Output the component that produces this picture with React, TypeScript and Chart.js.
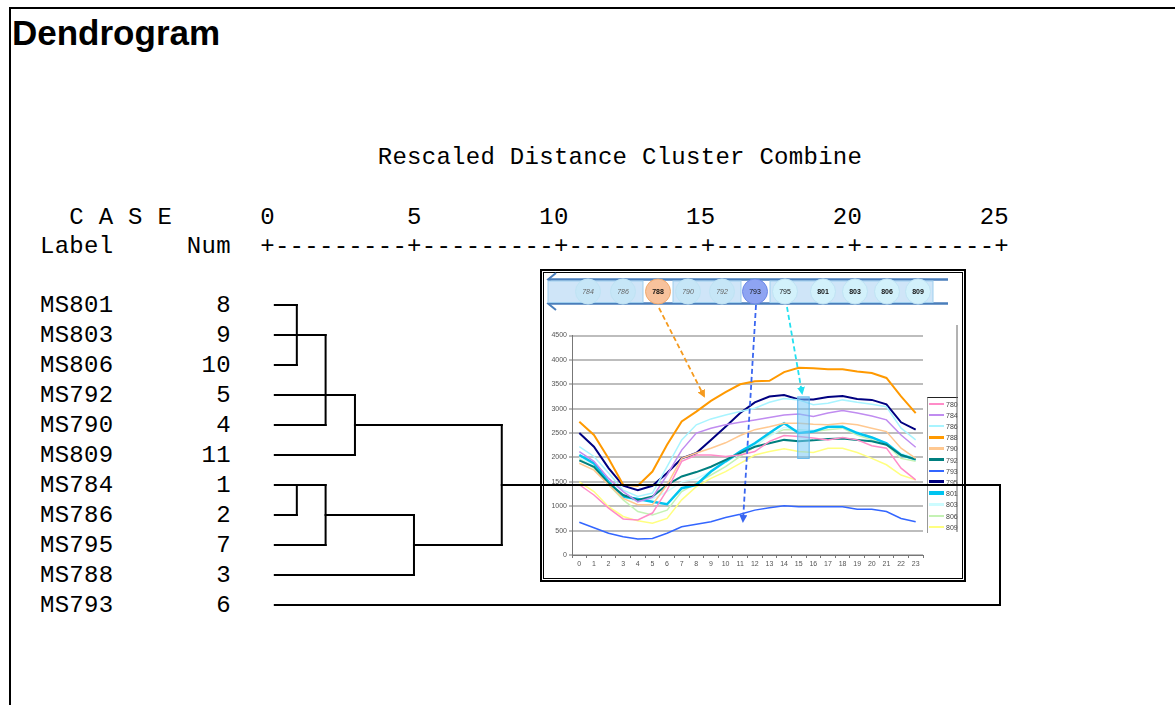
import React, { useEffect, useRef } from "react";
import { Chart, registerables } from "chart.js";

Chart.register(...registerables);

// ---------------- Dendrogram data ----------------
const caseLabels = ["MS801", "MS803", "MS806", "MS792", "MS790", "MS809", "MS784", "MS786", "MS795", "MS788", "MS793"];
const caseNums = [8, 9, 10, 5, 4, 11, 1, 2, 7, 3, 6];
const distanceTickLabels = ["0", "5", "10", "15", "20", "25"];
const leafStart = 0.3;
// children are node ids: 0..10 = leaves (rows), 11.. = earlier merges in order
const mergeChildren = [[0, 1, 2], [11, 4], [12, 3, 5], [6, 7], [14, 8], [15, 9], [13, 16], [17, 10]];
const mergeDistances = [1.05, 2.03, 3.03, 1.05, 2.03, 5.04, 8.03, 25];
const mergeOutRows = [1, 3, 4, 6, 7, 8, 6, 6];

// ---------------- Inset line chart data ----------------
const hours = ["0", "1", "2", "3", "4", "5", "6", "7", "8", "9", "10", "11", "12", "13", "14", "15", "16", "17", "18", "19", "20", "21", "22", "23"];
const yTickMax = 4500;
const yTickStep = 500;
const seriesNames = ["780", "784", "786", "788", "790", "792", "793", "795", "801", "803", "806", "809"];
const seriesColors = ["#ff8cc8", "#c08cf0", "#a8f4ff", "#ff9900", "#ffc890", "#007f7f", "#3366ff", "#000080", "#00c4f0", "#cdfcff", "#c4f2b4", "#ffff80"];
const seriesWidths = [1.5, 1.5, 1.5, 2, 1.5, 2, 1.5, 2, 2.5, 1.5, 1.5, 1.5];
const s780 = [1440, 1230, 960, 740, 720, 860, 1330, 1920, 2050, 2050, 2020, 2050, 2120, 2330, 2450, 2430, 2400, 2360, 2410, 2360, 2240, 2190, 1780, 1540];
const s784 = [2120, 1920, 1570, 1300, 1090, 1180, 1640, 2150, 2500, 2600, 2670, 2720, 2770, 2820, 2870, 2890, 2840, 2910, 2960, 2910, 2850, 2770, 2460, 2210];
const s786 = [2220, 2020, 1680, 1330, 1200, 1270, 1810, 2360, 2670, 2790, 2870, 2940, 3010, 3130, 3210, 3180, 3080, 3110, 3180, 3130, 3090, 3040, 2600, 2360];
const s788 = [2730, 2460, 1980, 1440, 1420, 1710, 2260, 2740, 2940, 3160, 3340, 3500, 3560, 3570, 3750, 3840, 3830, 3810, 3810, 3760, 3730, 3630, 3250, 2910];
const s790 = [1880, 1740, 1440, 1160, 1030, 1030, 1440, 1980, 2090, 2190, 2300, 2450, 2570, 2630, 2700, 2700, 2680, 2670, 2700, 2670, 2600, 2530, 2190, 1980];
const s792 = [1940, 1810, 1470, 1230, 1130, 1200, 1440, 1610, 1700, 1810, 1950, 2090, 2220, 2290, 2360, 2330, 2350, 2380, 2390, 2360, 2330, 2260, 2050, 1960];
const s793 = [670, 560, 445, 375, 330, 340, 445, 580, 630, 680, 770, 835, 920, 970, 1010, 990, 990, 990, 990, 940, 940, 890, 750, 680];
const s795 = [2500, 2220, 1780, 1420, 1330, 1420, 1680, 1980, 2090, 2360, 2630, 2910, 3130, 3250, 3280, 3190, 3190, 3240, 3260, 3200, 3180, 3090, 2720, 2570];
const s801 = [2050, 1880, 1500, 1200, 1150, 1090, 1040, 1370, 1440, 1710, 1920, 2120, 2290, 2500, 2700, 2500, 2530, 2630, 2630, 2500, 2410, 2290, 2050, 1960];
const s803 = [2000, 1840, 1480, 1180, 1100, 1150, 1300, 1500, 1560, 1720, 1900, 2080, 2250, 2430, 2620, 2560, 2560, 2610, 2620, 2520, 2420, 2300, 2080, 1990];
const s806 = [1980, 1780, 1440, 1130, 890, 820, 920, 1300, 1470, 1640, 1810, 2020, 2220, 2460, 2570, 2570, 2530, 2570, 2600, 2460, 2360, 2260, 1980, 1920];
const s809 = [1500, 1300, 990, 790, 700, 650, 750, 1130, 1400, 1570, 1710, 1880, 2050, 2120, 2180, 2120, 2100, 2190, 2190, 2100, 1980, 1850, 1640, 1540];
const seriesValues = [s780, s784, s786, s788, s790, s792, s793, s795, s801, s803, s806, s809];
const highlightHours = [14.9, 15.75];
const highlightValues = [1970, 3250];

// top strip of the inset picture
const stripCases = ["784", "786", "788", "790", "792", "793", "795", "801", "803", "806", "809"];

const MONO = '"Liberation Mono", "Courier New", monospace';

export default function App() {
  const dendroRef = useRef<HTMLCanvasElement>(null);
  const lineRef = useRef<HTMLCanvasElement>(null);

  useEffect(() => {
    // ---- dendrogram segments built from merge data ----
    const nodeX: number[] = caseLabels.map(() => leafStart);
    const nodeRow: number[] = caseLabels.map((_, i) => i);
    const segs: { x: number; y: number }[][] = [];
    mergeChildren.forEach((ch, k) => {
      const d = mergeDistances[k];
      const rows = ch.map((c) => nodeRow[c]);
      ch.forEach((c) => {
        segs.push([{ x: nodeX[c], y: nodeRow[c] }, { x: d, y: nodeRow[c] }]);
      });
      segs.push([{ x: d, y: Math.min(...rows) }, { x: d, y: Math.max(...rows) }]);
      nodeX.push(d);
      nodeRow.push(mergeOutRows[k]);
    });

    const dendro = new Chart(dendroRef.current!, {
      type: "scatter",
      data: {
        datasets: segs.map((s) => ({
          data: s,
          showLine: true,
          borderColor: "#000",
          borderWidth: 2,
          pointRadius: 0,
          borderCapStyle: "square" as const,
          clip: false as any,
        })),
      },
      options: {
        responsive: false,
        animation: false,
        events: [],
        layout: { padding: { left: 266, right: 175, top: 305, bottom: 100 } },
        plugins: { legend: { display: false }, tooltip: { enabled: false } },
        scales: {
          x: { type: "linear", min: 0, max: 25, display: false },
          y: { type: "linear", min: 0, max: caseLabels.length - 1, reverse: true, display: false },
        },
      },
    });

    const highlightPlugin = {
      id: "highlight",
      afterDatasetsDraw(chart: any) {
        const xs = chart.scales.x;
        const ys = chart.scales.y;
        const x0 = xs.getPixelForValue(highlightHours[0]);
        const x1 = xs.getPixelForValue(highlightHours[1]);
        const y0 = ys.getPixelForValue(highlightValues[1]);
        const y1 = ys.getPixelForValue(highlightValues[0]);
        const ctx = chart.ctx;
        ctx.save();
        ctx.fillStyle = "rgba(120,200,245,0.55)";
        ctx.fillRect(x0, y0, x1 - x0, y1 - y0);
        ctx.strokeStyle = "rgba(90,180,235,0.9)";
        ctx.lineWidth = 1;
        ctx.strokeRect(x0 + 0.5, y0 + 0.5, x1 - x0 - 1, y1 - y0 - 1);
        ctx.restore();
      },
    };

    const line = new Chart(lineRef.current!, {
      type: "line",
      data: {
        labels: hours,
        datasets: seriesNames.map((n, i) => ({
          label: n,
          data: seriesValues[i],
          borderColor: seriesColors[i],
          backgroundColor: seriesColors[i],
          borderWidth: seriesWidths[i],
          pointRadius: 0,
          tension: 0,
          fill: false,
        })),
      },
      options: {
        responsive: false,
        animation: false,
        events: [],
        layout: { padding: { left: 0, right: 39, top: 15.5, bottom: 0 } },
        plugins: { legend: { display: false }, tooltip: { enabled: false } },
        scales: {
          x: {
            type: "category",
            offset: true,
            grid: { display: true, drawOnChartArea: false, drawTicks: true, tickLength: 3, offset: true, color: "#777" },
            border: { display: true, color: "#777", width: 1 },
            ticks: { font: { size: 7, family: "Liberation Sans" }, color: "#555", maxRotation: 0, autoSkip: false, padding: 2 },
            afterFit: (s: any) => {
              s.height = 23;
            },
          },
          y: {
            min: 0,
            max: yTickMax,
            ticks: {
              stepSize: yTickStep,
              font: { size: 7, family: "Liberation Sans" },
              color: "#555",
              padding: 2,
              callback: (v: any) => String(v),
            },
            grid: { color: "#bdbdbd", lineWidth: 2, tickLength: 3, tickColor: "#777", tickWidth: 1 },
            border: { display: true, color: "#777", width: 1 },
            afterFit: (s: any) => {
              s.width = 27;
            },
          },
        },
      },
      plugins: [highlightPlugin],
    });

    return () => {
      dendro.destroy();
      line.destroy();
    };
  }, []);

  const monoBase: React.CSSProperties = {
    position: "absolute",
    fontFamily: MONO,
    fontSize: 24,
    letterSpacing: "0.28px",
    lineHeight: "30px",
    whiteSpace: "pre",
    color: "#000",
    left: 40,
  };

  const headerLine =
    "  C A S E      " +
    distanceTickLabels.map((t, i) => (i === 0 ? t : t.padStart(10))).join("");
  const axisLine = "Label     Num  " + "+" + distanceTickLabels.slice(1).map(() => "---------+").join("");

  const stripX = [588, 623, 658, 688, 722, 755, 785, 823, 855, 887, 918];
  const stripFill = (c: string) =>
    c === "788" ? "#f8c29c" : c === "793" ? "#8ea4f2" : ["784", "786", "790", "792"].includes(c) ? "#c6e6f7" : "#d2f1fb";
  const stripStroke = (c: string) => (c === "788" ? "#f0a86c" : c === "793" ? "#6a86e6" : "#bfe3f4");
  const stripText = (c: string) => (["784", "786", "790", "792"].includes(c) ? "#666" : "#111");
  const stripBold = (c: string) => ["788", "801", "803", "806", "809"].includes(c);

  return (
    <div style={{ position: "fixed", left: 0, top: 0, width: 1175, height: 705, background: "#fff", overflow: "hidden" }}>
      {/* page frame */}
      <div style={{ position: "absolute", left: 9, top: 7, width: 1200, height: 720, borderTop: "2px solid #000", borderLeft: "2px solid #000" }} />
      <div
        style={{
          position: "absolute",
          left: 12,
          top: 15,
          fontFamily: '"Liberation Sans", Arial, sans-serif',
          fontWeight: "bold",
          fontSize: 35,
          lineHeight: "35px",
          color: "#000",
          whiteSpace: "pre",
        }}
      >
        Dendrogram
      </div>

      <div style={{ ...monoBase, top: 143 }}>{"                       Rescaled Distance Cluster Combine"}</div>
      <div style={{ ...monoBase, top: 203 }}>{headerLine}</div>
      <div style={{ ...monoBase, top: 232 }}>{axisLine}</div>
      {caseLabels.map((l, i) => (
        <div key={l} style={{ ...monoBase, top: 291 + 30 * i }}>
          {l + String(caseNums[i]).padStart(8)}
        </div>
      ))}

      {/* inset picture frame */}
      <div style={{ position: "absolute", left: 540, top: 269, width: 426, height: 313, boxSizing: "border-box", border: "2px solid #000", background: "#fff" }} />
      <div style={{ position: "absolute", left: 543, top: 272, width: 420, height: 307, boxSizing: "border-box", border: "1px solid #000" }} />

      <canvas ref={lineRef} width={417} height={258} style={{ position: "absolute", left: 545, top: 320, width: 417, height: 258, display: "block" }} />

      {/* legend of the inset chart */}
      <div style={{ position: "absolute", left: 927, top: 397, width: 31, height: 136, boxSizing: "border-box", borderTop: "1px solid #222", borderLeft: "1px solid #999" }}>
        {seriesNames.map((n, i) => (
          <div key={n} style={{ position: "absolute", left: 1, top: 0.5 + i * 11.2, height: 11, width: 30 }}>
            <div style={{ position: "absolute", left: 0, top: 5.5 - seriesWidths[i], width: 15, height: seriesWidths[i] + 1, background: seriesColors[i] }} />
            <div style={{ position: "absolute", left: 17, top: 1, fontFamily: '"Liberation Sans", Arial, sans-serif', fontSize: 7, lineHeight: "9px", color: "#444" }}>{n}</div>
          </div>
        ))}
      </div>

      <svg width={1175} height={705} style={{ position: "absolute", left: 0, top: 0, pointerEvents: "none" }}>
        <defs>
          <marker id="ah-o" markerWidth="8" markerHeight="8" refX="6" refY="4" orient="auto" markerUnits="userSpaceOnUse">
            <path d="M0,0 L8,4 L0,8 z" fill="#f59a1e" />
          </marker>
          <marker id="ah-b" markerWidth="8" markerHeight="8" refX="6" refY="4" orient="auto" markerUnits="userSpaceOnUse">
            <path d="M0,0 L8,4 L0,8 z" fill="#3a66f0" />
          </marker>
          <marker id="ah-c" markerWidth="8" markerHeight="8" refX="6" refY="4" orient="auto" markerUnits="userSpaceOnUse">
            <path d="M0,0 L8,4 L0,8 z" fill="#22e0f0" />
          </marker>
        </defs>
        {/* chart border line on the right */}
        <line x1={957} y1={325} x2={957} y2={532} stroke="#666" strokeWidth={1} />
        {/* top strip */}
        <polyline points="556,273 548,279.5 556,286" fill="none" stroke="#4a7ebb" strokeWidth={2} />
        <polyline points="556,297 548,303.5 556,310" fill="none" stroke="#4a7ebb" strokeWidth={2} />
        <line x1={548} y1={279.5} x2={948} y2={279.5} stroke="#4a7ebb" strokeWidth={2.5} />
        <line x1={548} y1={303.5} x2={948} y2={303.5} stroke="#4a7ebb" strokeWidth={2.5} />
        <rect x={548} y={281} width={95} height={21.5} fill="#cfe5f8" stroke="#9fcfee" strokeWidth={1} />
        <rect x={673} y={281} width={68} height={21.5} fill="#cfe5f8" stroke="#9fcfee" strokeWidth={1} />
        <rect x={770} y={281} width={163} height={21.5} fill="#cfe5f8" stroke="#9fcfee" strokeWidth={1} />
        {stripCases.map((c, i) => (
          <g key={c}>
            <circle cx={stripX[i]} cy={291.5} r={12.5} fill={stripFill(c)} stroke={stripStroke(c)} strokeWidth={1} />
            <text
              x={stripX[i]}
              y={294}
              textAnchor="middle"
              fontFamily="Liberation Sans, Arial, sans-serif"
              fontSize={7}
              fontWeight={stripBold(c) ? "bold" : "normal"}
              fontStyle={["784", "786", "790", "792"].includes(c) ? "italic" : "normal"}
              fill={stripText(c)}
            >
              {c}
            </text>
          </g>
        ))}
        {/* dashed arrows */}
        <line x1={659} y1={308} x2={704} y2={396} stroke="#f59a1e" strokeWidth={1.8} strokeDasharray="5 3" markerEnd="url(#ah-o)" />
        <line x1={756} y1={305} x2={743} y2={521} stroke="#3a66f0" strokeWidth={1.8} strokeDasharray="5 3" markerEnd="url(#ah-b)" />
        <line x1={787} y1={307} x2={802} y2={393} stroke="#22e0f0" strokeWidth={1.8} strokeDasharray="5 3" markerEnd="url(#ah-c)" />
      </svg>

      <canvas
        ref={dendroRef}
        width={1175}
        height={705}
        style={{ position: "absolute", left: 0, top: 0, width: 1175, height: 705, pointerEvents: "none", display: "block" }}
      />
    </div>
  );
}
